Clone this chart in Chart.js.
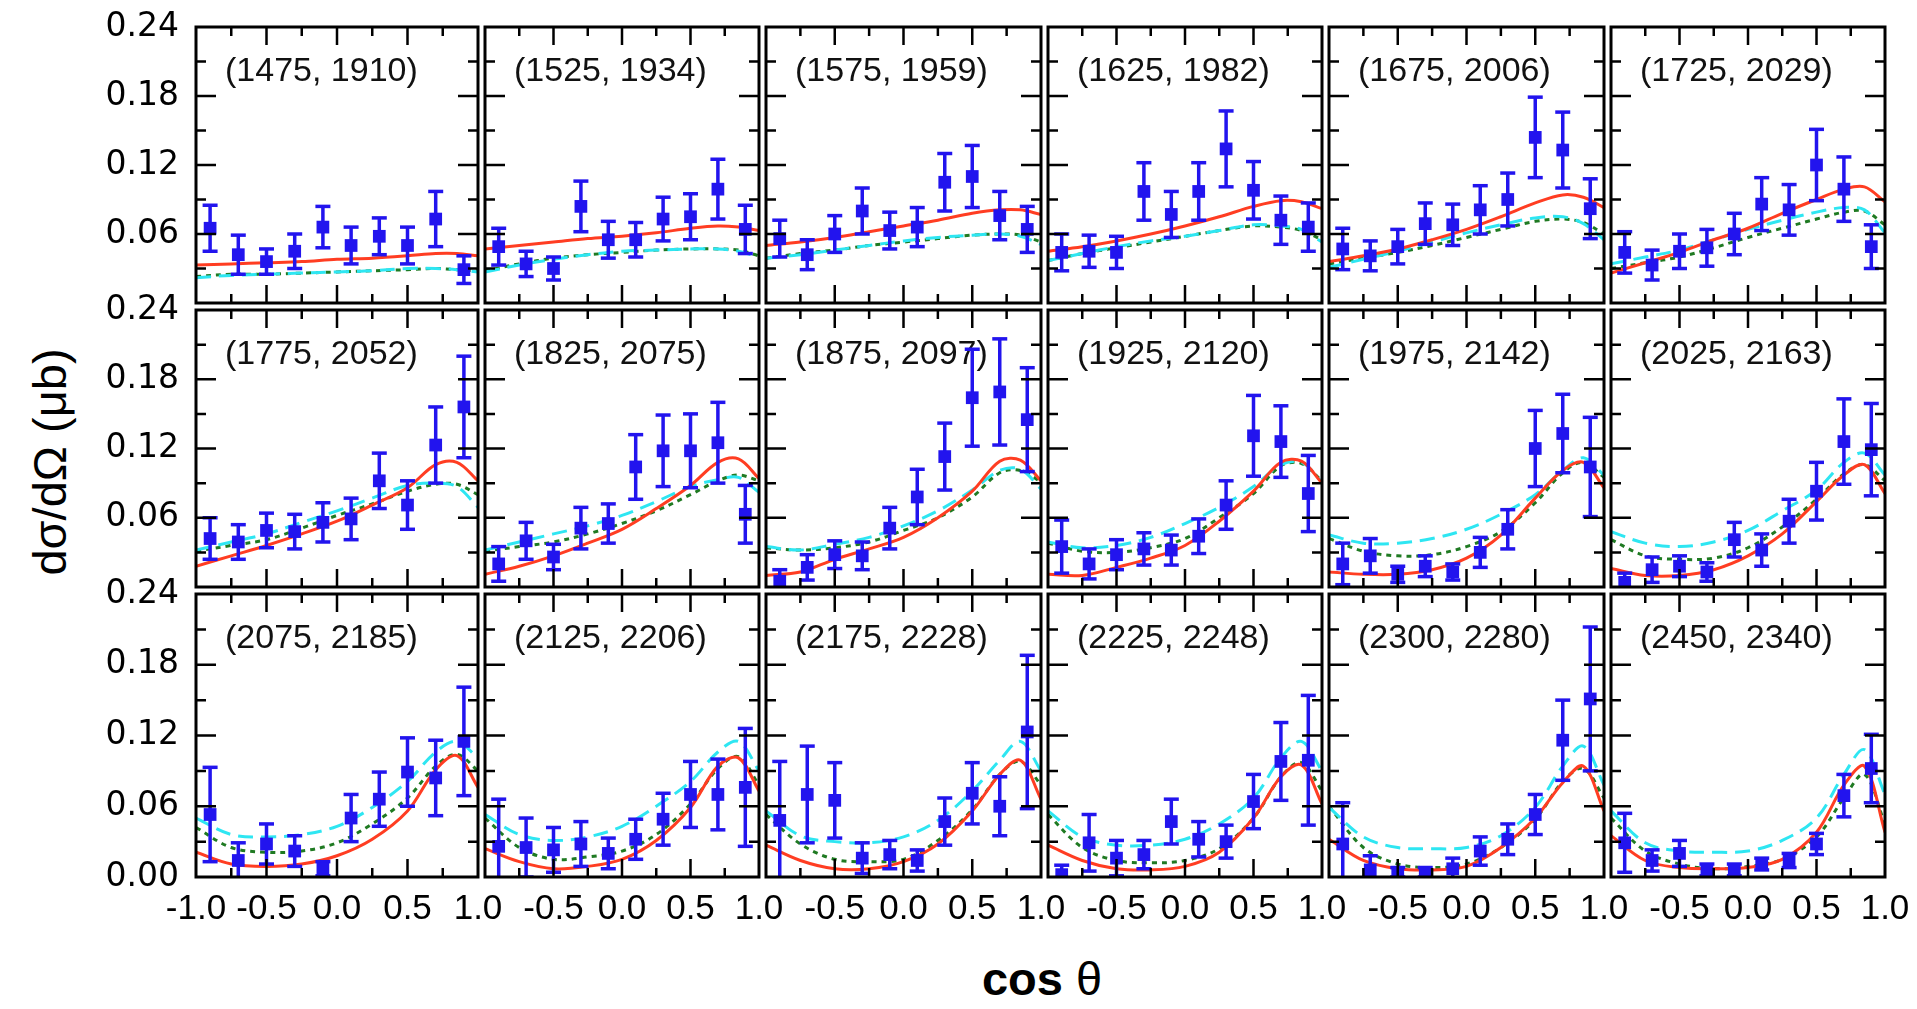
<!DOCTYPE html>
<html>
<head>
<meta charset="utf-8">
<title>Differential cross sections</title>
<script src="https://cdn.jsdelivr.net/npm/chart.js@4.4.1/dist/chart.umd.min.js"></script>
<style>
    body { margin: 0; background: #fff; }
    #wrap { position: relative; width: 1917px; height: 1009px; overflow: hidden; font-family: 'Liberation Sans', Arial, sans-serif; }
    #wrap canvas { position: absolute; }
    #ytitle { position: absolute; left: 49px; top: 462px; transform: translate(-50%, -50%) rotate(-90deg); font-size: 47px; white-space: nowrap; color: #000; }
    #xtitle { position: absolute; left: 1042px; top: 978px; transform: translate(-50%, -50%); font-size: 47px; white-space: nowrap; color: #000; }
    #xtitle b { font-weight: bold; }
</style>
</head>
<body>
<div id="wrap">
    <div id="ytitle">dσ/dΩ (μb)</div>
    <div id="xtitle"><b>cos</b> θ</div>
</div>
<script>
// cos(theta) bins of the measured points and the x grid of the model curves
const cosTheta = [-0.9, -0.7, -0.5, -0.3, -0.1, 0.1, 0.3, 0.5, 0.7, 0.9];
const curveCos = [-1.0, -0.75, -0.5, -0.25, 0.0, 0.25, 0.5, 0.7, 0.85, 1.0];

// (E_gamma, W) in MeV for each panel
const panelLabels = [
    '(1475, 1910)', '(1525, 1934)', '(1575, 1959)', '(1625, 1982)', '(1675, 2006)', '(1725, 2029)',
    '(1775, 2052)', '(1825, 2075)', '(1875, 2097)', '(1925, 2120)', '(1975, 2142)', '(2025, 2163)',
    '(2075, 2185)', '(2125, 2206)', '(2175, 2228)', '(2225, 2248)', '(2300, 2280)', '(2450, 2340)'
];

const xTickLabels = ['-1.0', '-0.5', '0.0', '0.5', '1.0'];
const yTickLabels = ['0.00', '0.06', '0.12', '0.18', '0.24'];

// measured dsigma/dOmega (ub)
const dsdo = [
    [0.065, 0.042, 0.036, 0.045, 0.066, 0.050, 0.058, 0.050, 0.073, 0.029],
    [0.049, 0.034, 0.030, 0.084, 0.055, 0.055, 0.073, 0.075, 0.099, 0.064],
    [0.056, 0.042, 0.060, 0.080, 0.063, 0.066, 0.105, 0.110, 0.076, 0.064],
    [0.044, 0.045, 0.044, 0.097, 0.077, 0.097, 0.134, 0.098, 0.072, 0.066],
    [0.047, 0.041, 0.049, 0.069, 0.068, 0.081, 0.090, 0.144, 0.133, 0.082],
    [0.044, 0.033, 0.045, 0.048, 0.060, 0.086, 0.081, 0.120, 0.099, 0.049],
    [0.042, 0.039, 0.049, 0.048, 0.056, 0.059, 0.092, 0.071, 0.123, 0.156],
    [0.020, 0.040, 0.026, 0.051, 0.055, 0.104, 0.118, 0.118, 0.125, 0.063],
    [0.005, 0.017, 0.028, 0.027, 0.051, 0.078, 0.113, 0.164, 0.169, 0.145],
    [0.035, 0.020, 0.028, 0.033, 0.032, 0.044, 0.071, 0.131, 0.126, 0.081],
    [0.020, 0.027, 0.011, 0.018, 0.013, 0.030, 0.050, 0.120, 0.133, 0.104],
    [0.004, 0.015, 0.018, 0.013, 0.041, 0.032, 0.057, 0.083, 0.126, 0.119],
    [0.053, 0.014, 0.028, 0.022, 0.007, 0.050, 0.066, 0.089, 0.084, 0.115],
    [0.026, 0.025, 0.023, 0.028, 0.020, 0.032, 0.049, 0.070, 0.070, 0.076],
    [0.048, 0.070, 0.065, 0.016, 0.019, 0.014, 0.047, 0.071, 0.060, 0.123],
    [0.002, 0.029, 0.016, 0.019, 0.047, 0.032, 0.030, 0.064, 0.098, 0.099],
    [0.028, 0.006, 0.004, 0.004, 0.007, 0.022, 0.032, 0.053, 0.116, 0.151],
    [0.029, 0.014, 0.020, 0.006, 0.006, 0.011, 0.014, 0.028, 0.069, 0.092]
];

// errors of the measured points
const dsdoErr = [
    [0.020, 0.017, 0.011, 0.015, 0.018, 0.016, 0.016, 0.016, 0.024, 0.012],
    [0.016, 0.011, 0.010, 0.022, 0.016, 0.015, 0.019, 0.020, 0.026, 0.021],
    [0.016, 0.013, 0.016, 0.020, 0.016, 0.017, 0.025, 0.027, 0.021, 0.020],
    [0.016, 0.014, 0.014, 0.025, 0.020, 0.025, 0.033, 0.025, 0.021, 0.021],
    [0.018, 0.013, 0.015, 0.018, 0.018, 0.021, 0.023, 0.035, 0.033, 0.026],
    [0.018, 0.013, 0.015, 0.016, 0.018, 0.023, 0.022, 0.031, 0.028, 0.019],
    [0.018, 0.015, 0.015, 0.015, 0.017, 0.018, 0.024, 0.021, 0.033, 0.044],
    [0.015, 0.016, 0.011, 0.018, 0.017, 0.028, 0.031, 0.032, 0.035, 0.025],
    [0.010, 0.011, 0.012, 0.012, 0.018, 0.024, 0.029, 0.042, 0.046, 0.045],
    [0.023, 0.013, 0.013, 0.014, 0.013, 0.015, 0.021, 0.035, 0.031, 0.033],
    [0.018, 0.015, 0.007, 0.009, 0.007, 0.013, 0.017, 0.033, 0.034, 0.043],
    [0.008, 0.011, 0.009, 0.008, 0.015, 0.014, 0.019, 0.025, 0.037, 0.040],
    [0.040, 0.015, 0.017, 0.013, 0.006, 0.020, 0.023, 0.029, 0.032, 0.046],
    [0.040, 0.025, 0.019, 0.019, 0.013, 0.017, 0.022, 0.028, 0.030, 0.050],
    [0.050, 0.041, 0.032, 0.013, 0.012, 0.009, 0.020, 0.026, 0.025, 0.065],
    [0.008, 0.024, 0.015, 0.012, 0.019, 0.015, 0.014, 0.023, 0.033, 0.055],
    [0.035, 0.012, 0.004, 0.004, 0.009, 0.012, 0.013, 0.017, 0.034, 0.061],
    [0.025, 0.009, 0.011, 0.005, 0.005, 0.005, 0.006, 0.009, 0.018, 0.029]
];

// model curves: red solid, cyan dashed, green dotted
const curveSolid = [
    [0.033, 0.034, 0.035, 0.036, 0.038, 0.039, 0.041, 0.043, 0.043, 0.041],
    [0.047, 0.050, 0.053, 0.056, 0.058, 0.061, 0.065, 0.067, 0.066, 0.063],
    [0.050, 0.053, 0.057, 0.062, 0.067, 0.072, 0.078, 0.081, 0.081, 0.077],
    [0.045, 0.049, 0.054, 0.060, 0.067, 0.075, 0.084, 0.089, 0.088, 0.082],
    [0.036, 0.041, 0.047, 0.055, 0.064, 0.075, 0.087, 0.094, 0.092, 0.083],
    [0.026, 0.035, 0.044, 0.055, 0.065, 0.078, 0.090, 0.099, 0.101, 0.088],
    [0.018, 0.027, 0.036, 0.046, 0.057, 0.071, 0.086, 0.106, 0.108, 0.092],
    [0.011, 0.018, 0.027, 0.038, 0.050, 0.068, 0.088, 0.108, 0.111, 0.094],
    [0.010, 0.013, 0.024, 0.033, 0.043, 0.060, 0.083, 0.109, 0.110, 0.092],
    [0.011, 0.010, 0.017, 0.025, 0.036, 0.057, 0.083, 0.108, 0.109, 0.090],
    [0.013, 0.011, 0.011, 0.015, 0.025, 0.045, 0.077, 0.101, 0.108, 0.086],
    [0.016, 0.010, 0.010, 0.015, 0.027, 0.046, 0.074, 0.097, 0.106, 0.081],
    [0.021, 0.011, 0.009, 0.011, 0.018, 0.032, 0.056, 0.091, 0.103, 0.076],
    [0.024, 0.013, 0.007, 0.009, 0.015, 0.031, 0.059, 0.094, 0.101, 0.073],
    [0.027, 0.014, 0.007, 0.007, 0.013, 0.028, 0.056, 0.087, 0.099, 0.066],
    [0.027, 0.014, 0.007, 0.006, 0.009, 0.021, 0.050, 0.085, 0.095, 0.062],
    [0.032, 0.014, 0.007, 0.006, 0.009, 0.025, 0.050, 0.080, 0.094, 0.056],
    [0.035, 0.014, 0.008, 0.007, 0.008, 0.015, 0.038, 0.078, 0.094, 0.038]
];

const curveDashed = [
    [0.022, 0.024, 0.025, 0.026, 0.027, 0.028, 0.030, 0.030, 0.029, 0.027],
    [0.027, 0.033, 0.038, 0.042, 0.045, 0.046, 0.047, 0.047, 0.045, 0.040],
    [0.039, 0.042, 0.046, 0.050, 0.054, 0.057, 0.059, 0.060, 0.058, 0.051],
    [0.037, 0.043, 0.049, 0.054, 0.058, 0.063, 0.068, 0.067, 0.064, 0.053],
    [0.031, 0.038, 0.045, 0.053, 0.061, 0.068, 0.074, 0.075, 0.069, 0.055],
    [0.034, 0.040, 0.046, 0.055, 0.064, 0.072, 0.079, 0.083, 0.081, 0.061],
    [0.032, 0.039, 0.046, 0.056, 0.066, 0.077, 0.088, 0.090, 0.087, 0.069],
    [0.032, 0.039, 0.046, 0.053, 0.062, 0.074, 0.087, 0.093, 0.095, 0.082],
    [0.035, 0.032, 0.037, 0.043, 0.053, 0.066, 0.084, 0.101, 0.102, 0.085],
    [0.039, 0.034, 0.036, 0.043, 0.055, 0.069, 0.087, 0.106, 0.108, 0.091],
    [0.045, 0.038, 0.038, 0.042, 0.050, 0.063, 0.080, 0.101, 0.112, 0.097],
    [0.048, 0.038, 0.035, 0.039, 0.049, 0.066, 0.084, 0.108, 0.116, 0.097],
    [0.050, 0.036, 0.034, 0.036, 0.043, 0.059, 0.081, 0.106, 0.115, 0.101],
    [0.053, 0.036, 0.031, 0.034, 0.043, 0.060, 0.081, 0.106, 0.115, 0.090],
    [0.056, 0.035, 0.030, 0.029, 0.034, 0.048, 0.073, 0.099, 0.115, 0.090],
    [0.056, 0.034, 0.027, 0.027, 0.032, 0.045, 0.067, 0.101, 0.115, 0.090],
    [0.059, 0.034, 0.025, 0.024, 0.025, 0.035, 0.059, 0.094, 0.111, 0.078],
    [0.056, 0.029, 0.022, 0.021, 0.022, 0.031, 0.050, 0.087, 0.108, 0.070]
];

const curveDotted = [
    [0.023, 0.025, 0.025, 0.026, 0.027, 0.028, 0.029, 0.030, 0.029, 0.028],
    [0.028, 0.034, 0.039, 0.042, 0.044, 0.046, 0.047, 0.047, 0.046, 0.041],
    [0.039, 0.043, 0.046, 0.050, 0.053, 0.056, 0.059, 0.060, 0.059, 0.053],
    [0.037, 0.043, 0.048, 0.053, 0.058, 0.063, 0.067, 0.066, 0.063, 0.055],
    [0.034, 0.039, 0.044, 0.050, 0.057, 0.064, 0.071, 0.073, 0.070, 0.060],
    [0.030, 0.035, 0.040, 0.048, 0.057, 0.065, 0.073, 0.079, 0.080, 0.068],
    [0.031, 0.036, 0.041, 0.051, 0.062, 0.072, 0.083, 0.089, 0.089, 0.080],
    [0.031, 0.035, 0.039, 0.046, 0.055, 0.066, 0.080, 0.092, 0.097, 0.092],
    [0.034, 0.032, 0.034, 0.039, 0.049, 0.060, 0.078, 0.099, 0.101, 0.091],
    [0.038, 0.031, 0.030, 0.034, 0.042, 0.060, 0.081, 0.105, 0.107, 0.092],
    [0.042, 0.031, 0.027, 0.028, 0.035, 0.048, 0.073, 0.099, 0.108, 0.095],
    [0.041, 0.027, 0.024, 0.025, 0.034, 0.052, 0.076, 0.098, 0.106, 0.092],
    [0.042, 0.025, 0.021, 0.022, 0.029, 0.045, 0.067, 0.094, 0.104, 0.090],
    [0.050, 0.025, 0.015, 0.017, 0.022, 0.036, 0.062, 0.092, 0.102, 0.078],
    [0.053, 0.028, 0.015, 0.013, 0.015, 0.031, 0.057, 0.087, 0.098, 0.078],
    [0.053, 0.025, 0.014, 0.012, 0.014, 0.024, 0.050, 0.085, 0.097, 0.073],
    [0.060, 0.025, 0.011, 0.008, 0.011, 0.025, 0.049, 0.081, 0.092, 0.067],
    [0.050, 0.022, 0.011, 0.007, 0.009, 0.015, 0.034, 0.067, 0.087, 0.045]
];

// grid layout (page pixels)
const NCOLS = 6;
const PLOT_LEFT = 196, PLOT_TOP = 27;
const PANEL_W = 281.5, PANEL_H = 283.3;
const Y_AXIS_W = 196, X_AXIS_H = 70;
const PAD_T = 24, PAD_R = 40, PAD_EDGE = 4;

const BLUE = '#2214ee';
const FONT = "'Liberation Sans', Arial, sans-serif";
const Y_FONT = "'DejaVu Sans', 'Liberation Sans', sans-serif";

// panel caption, frame and inward tick marks
const framePlugin = {
    id: 'frame',
    beforeDatasetsDraw(chart, args, opts) {
        const { ctx, chartArea: a } = chart;
        ctx.save();
        ctx.font = '34px ' + FONT;
        ctx.fillStyle = '#111';
        ctx.textBaseline = 'middle';
        ctx.fillText(opts.label, a.left + 29, a.top + 45);
        ctx.restore();
    },
    afterDatasetsDraw(chart) {
        const { ctx, chartArea: a, scales } = chart;
        const x = scales.x, y = scales.y;
        ctx.save();
        ctx.strokeStyle = '#000';
        ctx.lineWidth = 2.5;
        ctx.beginPath();
        x.ticks.forEach(t => {
            if (t.value <= -1 || t.value >= 1) return;
            const px = x.getPixelForValue(t.value);
            const len = Math.round((t.value + 1) / 0.25) % 2 ? 9 : 18;
            ctx.moveTo(px, a.top); ctx.lineTo(px, a.top + len);
            ctx.moveTo(px, a.bottom); ctx.lineTo(px, a.bottom - len);
        });
        y.ticks.forEach(t => {
            if (t.value <= 0 || t.value >= 0.24) return;
            const py = y.getPixelForValue(t.value);
            const len = Math.round(t.value / 0.03) % 2 ? 10 : 20;
            ctx.moveTo(a.left, py); ctx.lineTo(a.left + len, py);
            ctx.moveTo(a.right, py); ctx.lineTo(a.right - len, py);
        });
        ctx.stroke();
        ctx.lineWidth = 3;
        ctx.strokeRect(a.left, a.top, a.right - a.left, a.bottom - a.top);
        ctx.restore();
    }
};

const wrap = document.getElementById('wrap');

panelLabels.forEach((label, i) => {
    const col = i % NCOLS, row = Math.floor(i / NCOLS);
    const isLeft = col === 0, isBottom = row === 2;

    const x0 = Math.round(PLOT_LEFT + col * PANEL_W), x1 = Math.round(PLOT_LEFT + (col + 1) * PANEL_W);
    const y0 = Math.round(PLOT_TOP + row * PANEL_H), y1 = Math.round(PLOT_TOP + (row + 1) * PANEL_H);
    const padL = isLeft ? Y_AXIS_W : PAD_EDGE;
    const padB = isBottom ? X_AXIS_H : PAD_EDGE;

    const canvas = document.createElement('canvas');
    canvas.width = (x1 - x0) + padL + PAD_R;
    canvas.height = (y1 - y0) + PAD_T + padB;
    canvas.style.left = (x0 - padL) + 'px';
    canvas.style.top = (y0 - PAD_T) + 'px';
    wrap.appendChild(canvas);

    // error bars: one segment per point, caps drawn as 'line' point style
    const errData = [];
    cosTheta.forEach((c, k) => {
        errData.push({ x: c, y: dsdo[i][k] - dsdoErr[i][k] });
        errData.push({ x: c, y: dsdo[i][k] + dsdoErr[i][k] });
        errData.push({ x: c, y: null });
    });

    const curve = arr => curveCos.map((c, k) => ({ x: c, y: arr[i][k] }));

    new Chart(canvas, {
        type: 'scatter',
        data: {
            datasets: [
                {
                    label: 'data',
                    data: cosTheta.map((c, k) => ({ x: c, y: dsdo[i][k] })),
                    pointStyle: 'rect',
                    pointRadius: 9,
                    backgroundColor: BLUE,
                    borderWidth: 0,
                    order: 0
                },
                {
                    label: 'errors',
                    data: errData,
                    showLine: true,
                    spanGaps: false,
                    borderColor: BLUE,
                    borderWidth: 3.5,
                    pointStyle: 'line',
                    pointRadius: 7.5,
                    pointBorderWidth: 3.5,
                    pointBorderColor: BLUE,
                    order: 1
                },
                {
                    label: 'solid',
                    data: curve(curveSolid),
                    showLine: true,
                    borderColor: '#ff3d22',
                    borderWidth: 3,
                    pointRadius: 0,
                    tension: 0.35,
                    order: 2
                },
                {
                    label: 'dashed',
                    data: curve(curveDashed),
                    showLine: true,
                    borderColor: '#2ee6f2',
                    borderWidth: 3,
                    borderDash: [15, 8],
                    pointRadius: 0,
                    tension: 0.35,
                    order: 3
                },
                {
                    label: 'dotted',
                    data: curve(curveDotted),
                    showLine: true,
                    borderColor: '#1f7a22',
                    borderWidth: 3,
                    borderDash: [5, 5],
                    pointRadius: 0,
                    tension: 0.35,
                    order: 4
                }
            ]
        },
        options: {
            responsive: false,
            animation: false,
            events: [],
            layout: {
                padding: { left: isLeft ? 0 : PAD_EDGE, top: PAD_T, right: PAD_R, bottom: isBottom ? 0 : PAD_EDGE }
            },
            scales: {
                x: {
                    type: 'linear',
                    min: -1,
                    max: 1,
                    grid: { display: false, drawTicks: false },
                    border: { display: false },
                    ticks: {
                        display: isBottom,
                        stepSize: 0.25,
                        autoSkip: false,
                        maxRotation: 0,
                        padding: 11,
                        color: '#000',
                        font: { family: FONT, size: 35 },
                        callback: v => {
                            const k = Math.round((v + 1) / 0.25);
                            if (k % 2) return '';
                            if (k === 0 && !isLeft) return '';
                            return xTickLabels[k / 2];
                        }
                    },
                    afterFit: s => {
                        s.height = isBottom ? X_AXIS_H : 0;
                        s.paddingLeft = 0; s.paddingRight = 0;
                    }
                },
                y: {
                    min: 0,
                    max: 0.24,
                    grid: { display: false, drawTicks: false },
                    border: { display: false },
                    ticks: {
                        display: isLeft,
                        stepSize: 0.03,
                        autoSkip: false,
                        padding: 17,
                        color: '#000',
                        font: { family: Y_FONT, size: 33 },
                        callback: v => {
                            const k = Math.round(v / 0.03);
                            if (k % 2) return '';
                            if (k === 0 && !isBottom) return '';
                            return yTickLabels[k / 2];
                        }
                    },
                    afterFit: s => {
                        s.width = isLeft ? Y_AXIS_W : 0;
                        s.paddingTop = 0; s.paddingBottom = 0;
                    }
                }
            },
            plugins: {
                legend: { display: false },
                tooltip: { enabled: false },
                frame: { label: label }
            }
        },
        plugins: [framePlugin]
    });
});
</script>
</body>
</html>
